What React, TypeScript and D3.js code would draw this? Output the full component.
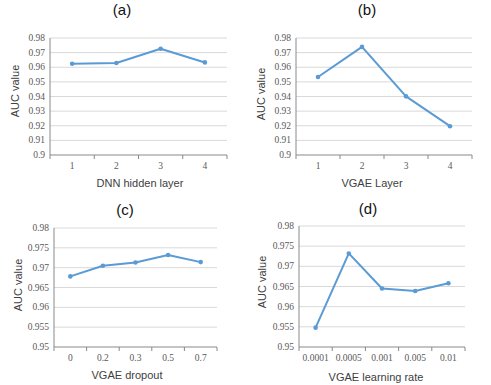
import React from 'react';
import * as d3 from 'd3';

// Panel data
const layerCats = ['1', '2', '3', '4'];
const dnnAuc = [0.9624, 0.9629, 0.9727, 0.9633];
const vgaeLayerAuc = [0.9533, 0.9739, 0.9401, 0.9197];
const dropoutCats = ['0', '0.2', '0.3', '0.5', '0.7'];
const dropoutAuc = [0.9678, 0.9705, 0.9713, 0.9732, 0.9714];
const lrCats = ['0.0001', '0.0005', '0.001', '0.005', '0.01'];
const lrAuc = [0.9548, 0.9732, 0.9645, 0.9639, 0.9658];
const ticksWide = [0.9, 0.91, 0.92, 0.93, 0.94, 0.95, 0.96, 0.97, 0.98];
const ticksNarrow = [0.95, 0.955, 0.96, 0.965, 0.97, 0.975, 0.98];

const LINE = '#5b9bd5';
const GRID = '#d9d9d9';
const AXIS = '#898989';
const TXT = '#595959';

type PanelProps = {
  label: string;
  xTitle: string;
  cats: string[];
  values: number[];
  ticks: number[];
  box: { x0: number; x1: number; y0: number; y1: number };
  titlePos: [number, number];
  xTitlePos: [number, number];
  yTitlePos: [number, number];
};

function Panel({ label, xTitle, cats, values, ticks, box, titlePos, xTitlePos, yTitlePos }: PanelProps) {
  const x = d3.scaleBand().domain(cats).range([box.x0, box.x1]);
  const y = d3.scaleLinear().domain([ticks[0], ticks[ticks.length - 1]]).range([box.y1, box.y0]);
  const fmt = d3.format('~g');
  const line = d3.line<number>()
    .x((d, i) => x(cats[i])! + x.bandwidth() / 2)
    .y(d => y(d));
  const bounds = cats.map(c => x(c)!).concat([box.x1]);

  return (
    <g>
      <text x={titlePos[0]} y={titlePos[1]} textAnchor="middle" dominantBaseline="central"
        fontFamily="'Liberation Sans', Arial, sans-serif" fontSize={15} fill="#111">{label}</text>
      {ticks.map(t => (
        <g key={t}>
          <line x1={box.x0} x2={box.x1} y1={y(t)} y2={y(t)} stroke={t === ticks[0] ? AXIS : GRID} strokeWidth={1} />
          <text x={box.x0 - 5} y={y(t)} textAnchor="end" dominantBaseline="central"
            fontFamily="'Liberation Serif', 'Times New Roman', serif" fontSize={9.5} fill={TXT}>{fmt(t)}</text>
        </g>
      ))}
      <line x1={box.x0} x2={box.x0} y1={box.y0} y2={box.y1} stroke={AXIS} />
      {bounds.map((b, i) => (
        <line key={i} x1={b} x2={b} y1={box.y1} y2={box.y1 + 4} stroke={AXIS} />
      ))}
      {cats.map(c => (
        <text key={c} x={x(c)! + x.bandwidth() / 2} y={box.y1 + 11} textAnchor="middle" dominantBaseline="central"
          fontFamily="'Liberation Serif', 'Times New Roman', serif" fontSize={9.5} fill={TXT}>{c}</text>
      ))}
      <path d={line(values) ?? ''} fill="none" stroke={LINE} strokeWidth={2} strokeLinejoin="round" />
      {values.map((v, i) => (
        <circle key={i} cx={x(cats[i])! + x.bandwidth() / 2} cy={y(v)} r={2.3} fill={LINE} />
      ))}
      <text x={xTitlePos[0]} y={xTitlePos[1]} textAnchor="middle" dominantBaseline="central"
        fontFamily="'Liberation Sans', Arial, sans-serif" fontSize={11} fill="#404040">{xTitle}</text>
      <text transform={`translate(${yTitlePos[0]},${yTitlePos[1]}) rotate(-90)`} textAnchor="middle" dominantBaseline="central"
        fontFamily="'Liberation Sans', Arial, sans-serif" fontSize={11} fill="#404040">AUC value</text>
    </g>
  );
}

export default function App() {
  return (
    <svg width={491} height={385} style={{ position: 'absolute', left: 0, top: 0, background: '#fff' }}>
      <Panel label="(a)" xTitle="DNN hidden layer" cats={layerCats} values={dnnAuc} ticks={ticksWide}
        box={{ x0: 50, x1: 227, y0: 38, y1: 155 }} titlePos={[122, 9]} xTitlePos={[140, 183]} yTitlePos={[15, 91]} />
      <Panel label="(b)" xTitle="VGAE Layer" cats={layerCats} values={vgaeLayerAuc} ticks={ticksWide}
        box={{ x0: 296, x1: 472, y0: 38, y1: 155 }} titlePos={[367, 9]} xTitlePos={[372, 183]} yTitlePos={[261, 94]} />
      <Panel label="(c)" xTitle="VGAE dropout" cats={dropoutCats} values={dropoutAuc} ticks={ticksNarrow}
        box={{ x0: 54, x1: 217, y0: 228, y1: 347 }} titlePos={[125, 209]} xTitlePos={[127, 375]} yTitlePos={[18, 285]} />
      <Panel label="(d)" xTitle="VGAE learning rate" cats={lrCats} values={lrAuc} ticks={ticksNarrow}
        box={{ x0: 299, x1: 465, y0: 226, y1: 347 }} titlePos={[368, 208]} xTitlePos={[376, 377]} yTitlePos={[262, 282]} />
    </svg>
  );
}
